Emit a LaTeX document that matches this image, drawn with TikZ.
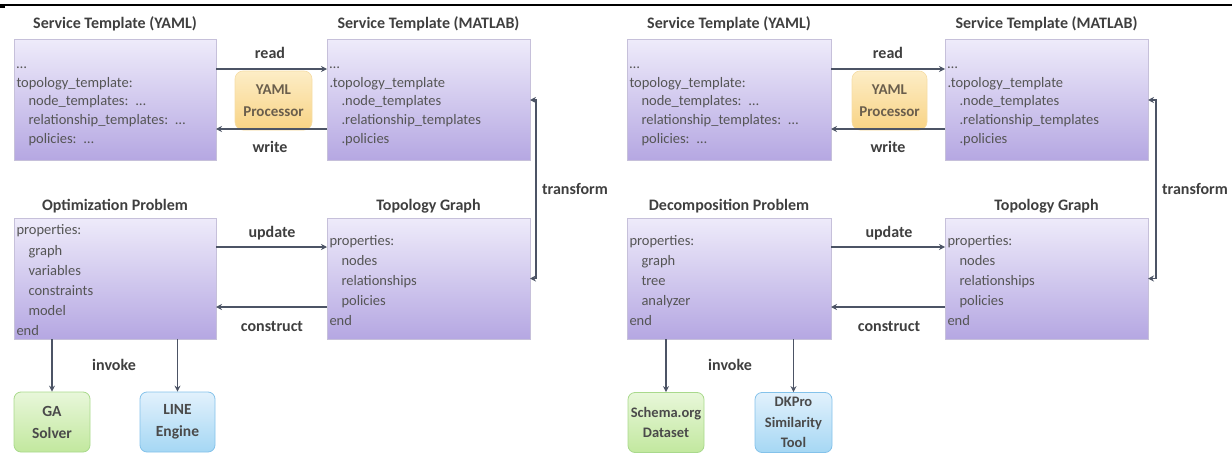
\documentclass[tikz,border=0pt]{standalone}
\usepackage{fontspec}
\setmainfont{Carlito}
\usetikzlibrary{arrows.meta}
\definecolor{pTop}{HTML}{EEEBFA}
\definecolor{pBot}{HTML}{B5A7E2}
\definecolor{pBorder}{HTML}{C6C0DA}
\definecolor{boxText}{HTML}{555555}
\definecolor{titleText}{HTML}{3F3F3F}
\definecolor{arrC}{HTML}{4C5465}
\definecolor{oTop}{HTML}{FDEDC6}
\definecolor{oBot}{HTML}{F8D384}
\definecolor{oBorder}{HTML}{F6DDA6}
\definecolor{oText}{HTML}{6A5E4C}
\definecolor{gTop}{HTML}{E8F7DA}
\definecolor{gBot}{HTML}{C2E89E}
\definecolor{gBorder}{HTML}{A9D98C}
\definecolor{bTop}{HTML}{E2F1FC}
\definecolor{bBot}{HTML}{A5D7F4}
\definecolor{bBorder}{HTML}{84C2EA}
\definecolor{smallText}{HTML}{4A4A4A}
\newcommand\myind{\hspace*{12pt}}
\newcommand\firstln{\rule{0pt}{14pt}}
\begin{document}
\begin{tikzpicture}[x=1pt,y=-1pt,
  pbox/.style={draw=pBorder, line width=0.6pt, top color=pTop, bottom color=pBot,
    minimum height=121pt, inner xsep=2.5pt, inner ysep=0pt, align=left,
    text=boxText, outer sep=0pt},
  stbox/.style={pbox, font={\fontsize{14.5}{18.6}\selectfont}},
  prbox/.style={pbox, font={\fontsize{14.5}{20.2}\selectfont}},
  title/.style={text=titleText, font={\fontsize{16}{19}\selectfont\bfseries}},
  lbl/.style={text=titleText, font={\fontsize{16}{19}\selectfont\bfseries},
    text height=1.5ex, text depth=.25ex},
  arr/.style={draw=arrC, line width=1.4pt, -{Stealth[length=6pt,width=6pt,inset=2pt]}},
  darr/.style={draw=arrC, line width=1.4pt, {Stealth[length=6pt,width=6pt,inset=2pt]}-{Stealth[length=6pt,width=6pt,inset=2pt]}},
  procbox/.style={draw=oBorder, line width=0.6pt, rounded corners=8pt, top color=oTop,
    bottom color=oBot, minimum height=59pt, align=center, text=oText, inner sep=0pt,
    font={\fontsize{15}{22}\selectfont\bfseries}},
  gbox/.style={draw=gBorder, line width=0.8pt, rounded corners=7pt, top color=gTop,
    bottom color=gBot, minimum height=60pt, align=center, text=smallText, inner sep=0pt},
  bbox/.style={draw=bBorder, line width=0.8pt, rounded corners=7pt, top color=bTop,
    bottom color=bBot, minimum height=60pt, align=center, text=smallText, inner sep=0pt},
  bigf/.style={font={\fontsize{15.5}{22}\selectfont\bfseries}},
  smallf/.style={font={\fontsize{14.5}{20.5}\selectfont\bfseries}}
]
\useasboundingbox (0,0) rectangle (1232,455);
% top rule
\fill[black] (0,4.3) rectangle (1232,5.7);
\fill[black] (0,4) rectangle (5,8);

% ================= LEFT PANEL =================
\node[procbox, minimum width=77pt] (proc) at (273.5,100.5) {YAML\\Processor};

\node[stbox, text width=197pt] (yaml) at (115,100)
  {\firstln…\\topology\_template:\\\myind node\_templates: …\\\myind relationship\_templates: …\\\myind policies: …};
\node[stbox, text width=198pt] (matlab) at (428.5,100)
  {\firstln…\\.topology\_template\\\myind .node\_templates\\\myind .relationship\_templates\\\myind .policies};
\node[prbox, text width=197pt] (opt) at (115,278.5)
  {\firstln properties:\\\myind graph\\\myind variables\\\myind constraints\\\myind model\\end};
\node[prbox, text width=198pt] (tg) at (428.5,278.5)
  {\firstln properties:\\\myind nodes\\\myind relationships\\\myind policies\\end};

\node[title] (t1) at (115,24) {Service Template (YAML)};
\node[title] (t2) at (428.5,24) {Service Template (MATLAB)};
\node[title] (t3) at (115,206.5) {Optimization Problem};
\node[title] (t4) at (428.5,206.5) {Topology Graph};

\node[gbox, bigf, minimum width=76pt] (ga) at (52,422) {GA\\Solver};
\node[bbox, bigf, minimum width=75pt] (line) at (177.5,422) {LINE\\Engine};

\draw[arr] ([yshift=31pt]yaml.east) -- ([yshift=31pt]matlab.west);
\draw[arr] ([yshift=-29pt]matlab.west) -- ([yshift=-29pt]yaml.east);
\draw[arr] ([yshift=31.5pt]opt.east) -- ([yshift=31.5pt]tg.west);
\draw[arr] ([yshift=-28.5pt]tg.west) -- ([yshift=-28.5pt]opt.east);
\draw[darr] (matlab.east) -- ++(6,0) |- (tg.east);
\draw[arr] (ga.north |- opt.south) -- (ga.north);
\draw[arr] (line.north |- opt.south) -- (line.north);

\node[lbl] (l1) at (270,56) {read};
\node[lbl] (l2) at (270,150) {write};
\node[lbl] (l3) at (272,235) {update};
\node[lbl] (l4) at (272,329) {construct};
\node[lbl] (l5) at (575,192) {transform};
\node[lbl] (l6) at (114,368) {invoke};

% ================= RIGHT PANEL =================
\node[procbox, minimum width=75pt] (proc2) at (889.5,100.5) {YAML\\Processor};

\node[stbox, text width=199pt] (yaml2) at (729,100)
  {\firstln…\\topology\_template:\\\myind node\_templates: …\\\myind relationship\_templates: …\\\myind policies: …};
\node[stbox, text width=198pt] (matlab2) at (1046.5,100)
  {\firstln…\\.topology\_template\\\myind .node\_templates\\\myind .relationship\_templates\\\myind .policies};
\node[prbox, text width=199pt] (dec) at (729,278.5)
  {\firstln properties:\\\myind graph\\\myind tree\\\myind analyzer\\end};
\node[prbox, text width=198pt] (tg2) at (1046.5,278.5)
  {\firstln properties:\\\myind nodes\\\myind relationships\\\myind policies\\end};

\node[title] (t5) at (729,24) {Service Template (YAML)};
\node[title] (t6) at (1046.5,24) {Service Template (MATLAB)};
\node[title] (t7) at (729,206.5) {Decomposition Problem};
\node[title] (t8) at (1046.5,206.5) {Topology Graph};

\node[gbox, smallf, minimum width=76pt] (schema) at (666,422.5) {Schema.org\\Dataset};
\node[bbox, smallf, minimum width=77pt] (dkpro) at (793.5,422.5) {DKPro\\Similarity\\Tool};

\draw[arr] ([yshift=31pt]yaml2.east) -- ([yshift=31pt]matlab2.west);
\draw[arr] ([yshift=-29pt]matlab2.west) -- ([yshift=-29pt]yaml2.east);
\draw[arr] ([yshift=31.5pt]dec.east) -- ([yshift=31.5pt]tg2.west);
\draw[arr] ([yshift=-28.5pt]tg2.west) -- ([yshift=-28.5pt]dec.east);
\draw[darr] (matlab2.east) -- ++(8,0) |- (tg2.east);
\draw[arr] (schema.north |- dec.south) -- (schema.north);
\draw[arr] (dkpro.north |- dec.south) -- (dkpro.north);

\node[lbl] (r1) at (888,56) {read};
\node[lbl] (r2) at (888,150) {write};
\node[lbl] (r3) at (889,235) {update};
\node[lbl] (r4) at (889,329) {construct};
\node[lbl] (r5) at (1195,192) {transform};
\node[lbl] (r6) at (730,368) {invoke};
\end{tikzpicture}
\end{document}
